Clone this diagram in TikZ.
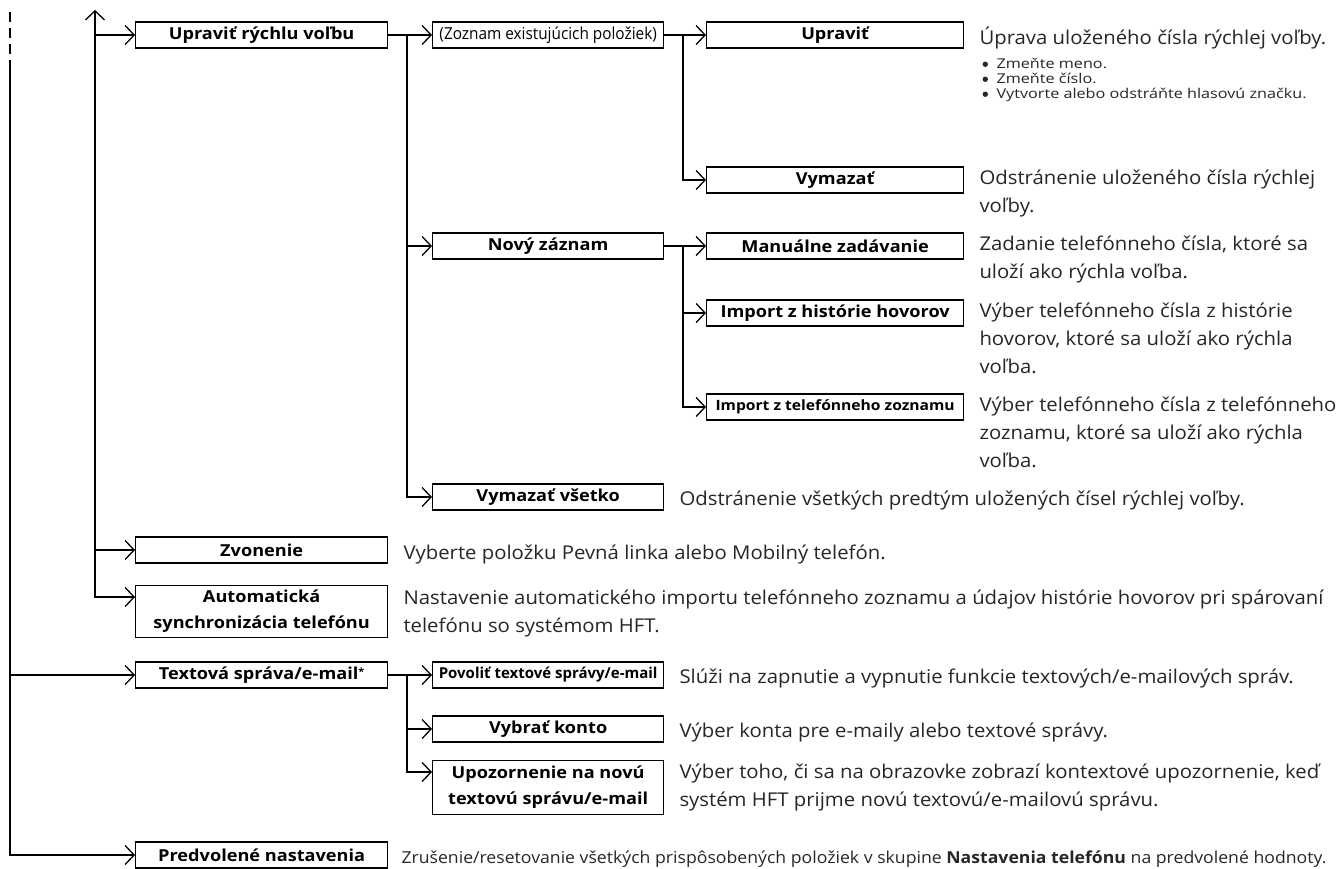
\documentclass[tikz,border=0pt]{standalone}
\usepackage{fontspec}
\setmainfont{Open Sans}
\newfontfamily\boxfont[FakeStretch=1.1]{Open Sans}
\newfontfamily\condfont[FakeStretch=0.93]{Open Sans}
\newfontfamily\narrowfont[FakeStretch=1.0]{Open Sans}
\newfontfamily\descfont[FakeStretch=1.07]{Open Sans}
\newfontfamily\listfont[FakeStretch=1.2]{Open Sans}
\usetikzlibrary{arrows.meta,positioning}

\tikzset{
  barb/.tip={Straight Barb[length=9pt,width=19pt,line width'=1.3pt]},
  conn/.style={line width=2pt, -{barb}},
  item/.style={draw, line width=1.3pt, anchor=west, minimum height=26pt,
    inner xsep=3pt, inner ysep=1pt, align=center,
    font=\boxfont\bfseries\fontsize{16.5}{26}\selectfont},
  col1/.style={item, minimum width=252pt},
  col2/.style={item, minimum width=231pt},
  col3/.style={item, minimum width=257pt},
  narrow/.style={font=\narrowfont\bfseries\fontsize{15}{18}\selectfont},
  desc/.style={anchor=north west, inner sep=0pt, align=left, text=black!85,
    font=\descfont\fontsize{19}{28}\selectfont, execute at begin node=\strut},
  bullets/.style={desc, font=\listfont\fontsize{13.5}{15}\selectfont},
}

\begin{document}
\begin{tikzpicture}[x=1pt,y=1pt]
\useasboundingbox (0,0) rectangle (1339,-868);

% menu boxes
\node[col1] (upravit) at (135,-35) {Upraviť rýchlu voľbu};
\node[col1] (zvonenie) at (135,-550) {Zvonenie};
\node[col1, anchor=north west, minimum height=52pt] (synchro) at (135,-585) {Automatická\\synchronizácia telefónu};
\node[col1] (sprava) at (135,-675) {Textová správa/e-mail\raisebox{4pt}{\fontsize{10}{10}\selectfont*}};
\node[col1] (predvol) at (135,-855) {Predvolené nastavenia};

\node[col2, font=\condfont\fontsize{16.5}{26}\selectfont] (zoznam) at (432,-35) {(Zoznam existujúcich položiek)};
\node[col2] (novy) at (432,-246) {Nový záznam};
\node[col2] (vsetko) at (432,-497) {Vymazať všetko};
\node[col2, narrow] (povolit) at (432,-675) {Povoliť textové správy/e-mail};
\node[col2] (konto) at (432,-729) {Vybrať konto};
\node[col2, anchor=north west, minimum height=54pt] (upozor) at (432,-760) {Upozornenie na novú\\textovú správu/e-mail};

\node[col3] (uprav) at (706,-35) {Upraviť};
\node[col3] (vymazat) at (706,-180) {Vymazať};
\node[col3] (manual) at (706,-246) {Manuálne zadávanie};
\node[col3] (historia) at (706,-313) {Import z histórie hovorov};
\node[col3, font=\boxfont\bfseries\fontsize{14.2}{18}\selectfont] (zoznamtel) at (706,-407) {Import z telefónneho zoznamu};

% descriptions
\node[desc] (uprav-d) at ([xshift=15pt,yshift=-3pt]uprav.north east) {Úprava uloženého čísla rýchlej voľby.};
\node[bullets] (uprav-l) at ([xshift=17pt,yshift=-5pt]uprav-d.south west)
  {Zmeňte meno.\\Zmeňte číslo.\\Vytvorte alebo odstráňte hlasovú značku.};
\foreach \k in {0,1,2}
  \fill[black!85] ([xshift=-11pt,yshift={-6.5pt-15pt*\k}]uprav-l.north west) circle (2.7pt);
\node[desc] (vymazat-d) at ([xshift=15pt,yshift=-3pt]vymazat.north east) {Odstránenie uloženého čísla rýchlej\\voľby.};
\node[desc] (manual-d) at ([xshift=15pt,yshift=-3pt]manual.north east) {Zadanie telefónneho čísla, ktoré sa\\uloží ako rýchla voľba.};
\node[desc] (historia-d) at ([xshift=15pt,yshift=-3pt]historia.north east) {Výber telefónneho čísla z histórie\\hovorov, ktoré sa uloží ako rýchla\\voľba.};
\node[desc] (zoznamtel-d) at ([xshift=15pt,yshift=-3pt]zoznamtel.north east) {Výber telefónneho čísla z telefónneho\\zoznamu, ktoré sa uloží ako rýchla\\voľba.};
\node[desc] (vsetko-d) at ([xshift=15pt,yshift=-2pt]vsetko.north east) {Odstránenie všetkých predtým uložených čísel rýchlej voľby.};
\node[desc] (zvonenie-d) at ([xshift=15pt,yshift=-3pt]zvonenie.north east) {Vyberte položku Pevná linka alebo Mobilný telefón.};
\node[desc] (synchro-d) at ([xshift=15pt,yshift=-5pt]synchro.north east) {Nastavenie automatického importu telefónneho zoznamu a údajov histórie hovorov pri spárovaní\\telefónu so systémom HFT.};
\node[desc] (povolit-d) at ([xshift=15pt,yshift=-2pt]povolit.north east) {Slúži na zapnutie a vypnutie funkcie textových/e-mailových správ.};
\node[desc] (konto-d) at ([xshift=15pt,yshift=-2pt]konto.north east) {Výber konta pre e-maily alebo textové správy.};
\node[desc] (upozor-d) at ([xshift=15pt,yshift=-4pt]upozor.north east) {Výber toho, či sa na obrazovke zobrazí kontextové upozornenie, keď\\systém HFT prijme novú textovú/e-mailovú správu.};
\node[desc, font=\descfont\fontsize{16.5}{28}\selectfont] (predvol-d) at ([xshift=13pt,yshift=-2pt]predvol.north east) {Zrušenie/resetovanie všetkých prispôsobených položiek v skupine \textbf{Nastavenia telefónu} na predvolené hodnoty.};

% connectors
\coordinate (top) at (95,-10);
\coordinate (s) at (95,-597);
\draw[line width=2pt, {barb}-{barb}] (top) -- (s) -- (s -| synchro.west);
\draw[conn] (top |- upravit.west) -- (upravit.west);
\draw[conn] (top |- zvonenie.west) -- (zvonenie.west);

\coordinate (a0) at (10,-12);
\coordinate (a1) at (10,-68);
\draw[line width=2pt, dash pattern=on 10pt off 6pt] (a0) -- (a1);
\draw[conn] (a1) |- (predvol.west);
\draw[conn] (a1 |- sprava.west) -- (sprava.west);

\coordinate (c) at (407,-35);
\draw[conn] (upravit.east) -- (zoznam.west);
\draw[conn] (c) |- (novy.west);
\draw[conn] (c) |- (vsetko.west);

\coordinate (d) at (683,-35);
\draw[conn] (zoznam.east) -- (uprav.west);
\draw[conn] (d) |- (vymazat.west);

\coordinate (e) at (683,-246);
\draw[conn] (novy.east) -- (manual.west);
\draw[conn] (e) |- (historia.west);
\draw[conn] (e) |- (zoznamtel.west);

\coordinate (f) at (407,-675);
\draw[conn] (sprava.east) -- (povolit.west);
\draw[conn] (f) |- (konto.west);
\draw[conn] (f) |- ([yshift=-12pt]upozor.north west);
\end{tikzpicture}
\end{document}
